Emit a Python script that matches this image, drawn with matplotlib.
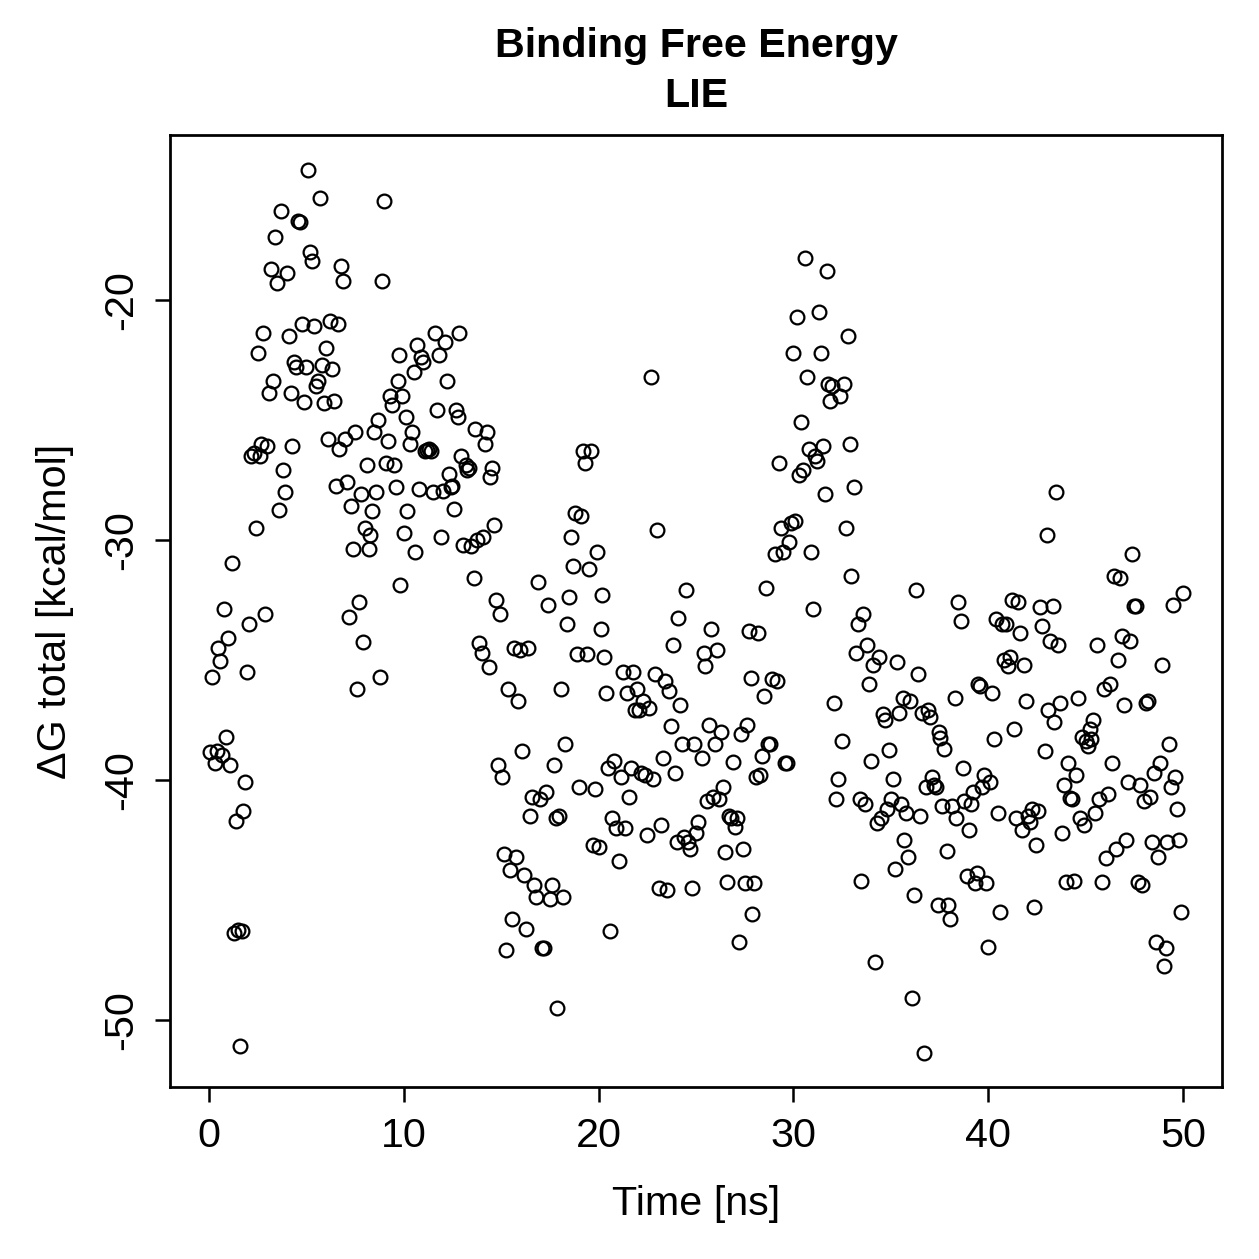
import matplotlib
matplotlib.use('Agg')
import matplotlib.pyplot as plt

## 1. Data
time = [0.05, 0.3, 0.4, 0.67, 0.15, 0.46, 0.56, 0.77, 0.87, 0.97, 1.08, 1.18, 1.28, 1.38, 1.49, 1.59, 1.69, 1.74, 1.84, 1.95,
        2.05, 2.15, 2.3, 2.4, 2.5, 2.6, 2.66, 2.77, 2.87, 2.97, 3.07, 3.18, 3.28, 3.38, 3.48, 3.59, 3.69, 3.79, 3.89, 3.99,
        4.1, 4.2, 4.25, 4.35, 4.46, 4.56, 4.66, 4.76, 4.87, 4.97, 5.07, 5.17, 5.28, 5.38, 5.48, 5.58, 5.69, 5.79, 5.89, 5.99,
        6.1, 6.2, 6.3, 6.4, 6.5, 6.6, 6.7, 6.8, 6.86, 6.97, 7.07, 7.17, 7.27, 7.38, 7.48, 7.58, 7.68, 7.79, 7.89, 7.99,
        8.09, 8.2, 8.25, 8.35, 8.45, 8.56, 8.66, 8.76, 8.86, 8.97, 9.07, 9.17, 9.27, 9.38, 9.48, 9.58, 9.68, 9.73, 9.79, 9.89,
        9.99, 10.09, 10.19, 10.3, 10.4, 10.5, 10.6, 10.7, 10.8, 10.9, 11.0, 11.1, 11.2, 11.3, 11.42, 11.5, 11.6, 11.7, 11.8, 11.9,
        12.0, 12.1, 12.2, 12.3, 12.4, 12.5, 12.6, 12.7, 12.8, 12.86, 12.96, 13.06, 13.17, 13.27, 13.37, 13.47, 13.58, 13.68, 13.78, 13.88,
        13.99, 14.09, 14.19, 14.29, 14.4, 14.45, 14.55, 14.65, 14.75, 14.86, 14.96, 15.06, 15.16, 15.27, 15.37, 15.47, 15.57, 15.68, 15.78, 15.88,
        15.98, 16.09, 16.19, 16.29, 16.39, 16.5, 16.6, 16.7, 16.8, 16.9, 17.0, 17.11, 17.2, 17.3, 17.42, 17.52, 17.62, 17.72, 17.83, 17.88,
        17.98, 18.08, 18.19, 18.29, 18.39, 18.49, 18.6, 18.7, 18.8, 18.9, 19.0, 19.1, 19.2, 19.3, 19.4, 19.5, 19.6, 19.7, 19.8, 19.9,
        20.0, 20.1, 20.2, 20.3, 20.4, 20.5, 20.6, 20.7, 20.8, 20.9, 21.05, 21.15, 21.25, 21.36, 21.46, 21.56, 21.67, 21.77, 21.87, 21.98,
        22.08, 22.18, 22.3, 22.4, 22.5, 22.6, 22.7, 22.8, 22.9, 23.0, 23.1, 23.2, 23.3, 23.4, 23.5, 23.6, 23.7, 23.8, 23.9, 24.0,
        24.1, 24.2, 24.3, 24.4, 24.5, 24.6, 24.7, 24.8, 24.9, 25.0, 25.1, 25.3, 25.4, 25.46, 25.56, 25.66, 25.77, 25.87, 25.97, 26.07,
        26.2, 26.3, 26.4, 26.5, 26.6, 26.7, 26.8, 26.9, 27.0, 27.1, 27.2, 27.3, 27.4, 27.5, 27.6, 27.7, 27.8, 27.9, 28.0, 28.1,
        28.2, 28.3, 28.4, 28.5, 28.6, 28.7, 28.8, 28.9, 29.05, 29.15, 29.25, 29.35, 29.46, 29.56, 29.66, 29.76, 29.87, 29.97, 30.07, 30.17,
        30.28, 30.38, 30.48, 30.6, 30.7, 30.8, 30.9, 31.0, 31.1, 31.2, 31.3, 31.4, 31.5, 31.6, 31.7, 31.8, 31.9, 32.0, 32.1, 32.2,
        32.3, 32.4, 32.5, 32.6, 32.7, 32.8, 32.9, 32.95, 33.1, 33.2, 33.3, 33.4, 33.45, 33.55, 33.66, 33.76, 33.86, 33.96, 34.07, 34.17,
        34.27, 34.37, 34.5, 34.6, 34.7, 34.8, 34.9, 35.0, 35.1, 35.2, 35.3, 35.4, 35.5, 35.6, 35.7, 35.8, 35.86, 35.96, 36.07, 36.17,
        36.27, 36.37, 36.5, 36.6, 36.7, 36.8, 36.9, 37.0, 37.1, 37.2, 37.3, 37.4, 37.45, 37.55, 37.65, 37.75, 37.86, 37.96, 38.06, 38.16,
        38.27, 38.37, 38.47, 38.6, 38.7, 38.78, 38.9, 38.99, 39.1, 39.2, 39.3, 39.4, 39.5, 39.6, 39.7, 39.8, 39.9, 40.0, 40.1, 40.2,
        40.3, 40.4, 40.5, 40.6, 40.7, 40.8, 40.9, 41.0, 41.1, 41.2, 41.3, 41.45, 41.55, 41.65, 41.75, 41.85, 41.95, 42.06, 42.16, 42.26,
        42.37, 42.47, 42.57, 42.67, 42.78, 42.9, 43.0, 43.08, 43.18, 43.3, 43.4, 43.5, 43.6, 43.7, 43.8, 43.9, 44.0, 44.1, 44.2, 44.3,
        44.4, 44.5, 44.6, 44.7, 44.8, 44.9, 45.0, 45.1, 45.2, 45.3, 45.4, 45.5, 45.6, 45.7, 45.85, 45.95, 46.05, 46.15, 46.25, 46.36,
        46.46, 46.56, 46.67, 46.77, 46.87, 46.98, 47.08, 47.2, 47.3, 47.4, 47.48, 47.6, 47.7, 47.8, 47.9, 48.0, 48.1, 48.2, 48.3, 48.4,
        48.5, 48.6, 48.7, 48.8, 48.9, 49.0, 49.1, 49.2, 49.3, 49.4, 49.5, 49.6, 49.7, 49.8, 49.9, 50.0]

dg_total = [-38.83, -39.3, -38.8, -38.96, -35.7, -34.5, -35.04, -32.9, -38.2, -34.1, -39.4, -30.96, -46.4, -41.7, -46.25, -51.1, -46.3, -41.3, -40.1, -35.5,
            -33.5, -26.5, -26.4, -29.5, -22.2, -26.5, -26.0, -21.4, -33.1, -26.1, -23.9, -18.7, -23.4, -17.4, -19.3, -28.75, -16.3, -27.1, -28.0, -18.9,
            -21.5, -23.9, -26.1, -22.6, -22.8, -16.7, -16.75, -21.0, -24.25, -22.8, -14.6, -18.0, -18.4, -21.1, -23.6, -23.4, -15.75, -22.7, -24.3, -22.0,
            -25.8, -20.9, -22.9, -24.2, -27.75, -21.0, -26.2, -18.6, -19.2, -25.8, -27.6, -33.2, -28.6, -30.4, -25.5, -36.2, -32.6, -28.1, -34.25, -29.5,
            -26.9, -30.4, -29.8, -28.8, -25.5, -28.0, -25.0, -35.7, -19.2, -15.9, -26.8, -25.9, -24.0, -24.4, -26.9, -27.8, -23.4, -22.3, -31.9, -24.0,
            -29.7, -24.9, -28.8, -26.0, -25.5, -23.0, -30.5, -21.9, -27.9, -22.4, -22.6, -26.3, -26.25, -26.2, -26.3, -28.0, -21.4, -24.6, -22.3, -29.9,
            -27.96, -21.75, -23.4, -27.25, -27.8, -27.75, -28.7, -24.6, -24.9, -21.4, -26.5, -30.2, -26.9, -27.1, -27.0, -30.25, -31.6, -25.4, -30.0, -34.3,
            -34.7, -29.9, -26.0, -25.5, -35.3, -27.4, -27.0, -29.4, -32.5, -39.4, -33.1, -39.9, -43.1, -47.1, -36.2, -43.75, -45.8, -34.5, -43.2, -36.7,
            -34.6, -38.8, -43.96, -46.2, -34.5, -41.5, -40.7, -44.4, -44.9, -31.75, -40.8, -47.0, -47.0, -40.5, -32.7, -44.95, -44.4, -39.4, -41.6, -49.5,
            -41.5, -36.2, -44.9, -38.5, -33.5, -32.4, -29.9, -31.1, -28.9, -34.75, -40.3, -29.0, -26.3, -26.8, -34.75, -31.2, -26.3, -42.7, -40.4, -30.5,
            -42.8, -33.7, -32.3, -34.9, -36.4, -39.5, -46.3, -41.6, -39.2, -42.0, -43.4, -39.9, -35.5, -42.0, -36.4, -40.7, -39.5, -35.5, -37.1, -36.2,
            -37.1, -39.7, -36.7, -39.8, -42.3, -37.0, -23.2, -39.96, -35.6, -29.6, -44.5, -41.9, -39.1, -35.9, -44.6, -36.3, -37.75, -34.4, -39.7, -42.6,
            -33.25, -36.9, -38.5, -42.4, -32.1, -42.6, -42.9, -44.5, -38.5, -42.2, -41.75, -39.1, -34.7, -35.25, -40.9, -37.7, -33.7, -40.7, -38.5, -34.6,
            -40.8, -38.0, -40.3, -43.0, -44.25, -41.5, -41.6, -39.25, -41.96, -41.6, -46.75, -38.1, -42.9, -44.3, -37.7, -33.8, -35.75, -45.6, -44.3, -39.9,
            -33.9, -39.8, -39.0, -36.5, -32.0, -38.5, -38.5, -35.8, -30.6, -35.9, -26.8, -29.5, -30.5, -39.3, -39.3, -30.1, -29.3, -22.2, -29.2, -20.7,
            -27.3, -25.1, -27.1, -18.25, -23.2, -26.2, -30.5, -32.9, -26.5, -26.7, -20.5, -22.2, -26.1, -28.1, -18.8, -23.5, -24.2, -23.6, -36.8, -40.8,
            -39.96, -24.0, -38.4, -23.5, -29.5, -21.5, -26.0, -31.5, -27.8, -34.7, -33.5, -40.8, -44.2, -33.1, -41.0, -34.4, -36.0, -39.2, -35.2, -47.6,
            -41.8, -34.9, -41.6, -37.25, -37.5, -41.2, -38.75, -40.8, -39.96, -43.7, -35.1, -37.2, -41.0, -36.6, -42.5, -41.4, -43.2, -36.7, -49.1, -44.8,
            -32.1, -35.6, -41.5, -37.2, -51.4, -40.3, -37.1, -37.4, -39.9, -40.2, -40.3, -45.2, -38.0, -38.25, -41.1, -38.7, -42.95, -45.2, -45.8, -41.1,
            -36.6, -41.6, -32.6, -33.4, -39.5, -40.9, -44.0, -42.1, -41.0, -40.5, -44.3, -43.9, -36.0, -36.1, -40.3, -39.8, -44.3, -46.96, -40.1, -36.4,
            -38.3, -33.3, -41.4, -45.5, -33.5, -35.0, -33.5, -35.25, -34.9, -32.5, -37.9, -41.6, -32.6, -33.9, -42.1, -35.2, -36.7, -41.5, -41.75, -41.2,
            -45.3, -42.7, -41.3, -32.8, -33.6, -38.8, -29.8, -37.1, -34.2, -32.75, -37.6, -28.0, -34.4, -36.8, -42.2, -40.2, -44.25, -39.3, -40.75, -40.8,
            -44.2, -39.8, -36.6, -41.6, -38.2, -41.9, -38.4, -38.6, -37.9, -38.3, -37.5, -41.4, -34.4, -40.8, -44.25, -36.2, -43.25, -40.6, -36.0, -39.3,
            -31.5, -42.9, -35.0, -31.6, -34.0, -36.9, -42.5, -40.1, -34.2, -30.6, -32.75, -32.75, -44.25, -40.2, -44.4, -40.9, -36.8, -36.7, -40.7, -42.6,
            -39.7, -46.75, -43.2, -39.3, -35.2, -47.75, -47.0, -42.6, -38.5, -40.3, -32.7, -39.9, -41.2, -42.5, -45.5, -32.2]

## 2. Figure (R base-graphics look)
plt.rcParams['font.family'] = ['Liberation Sans', 'DejaVu Sans']
plt.rcParams['axes.unicode_minus'] = False   # R draws a plain hyphen

fig = plt.figure(figsize=(1259 / 180, 1259 / 180), dpi=180, facecolor='white')
ax = fig.add_axes([170 / 1259, 1 - 1087 / 1259, (1222 - 170) / 1259, (1087 - 135) / 1259])

ax.plot(time, dg_total, linestyle='none', marker='o', markersize=5.5,
        markerfacecolor='none', markeredgecolor='black', markeredgewidth=0.9)

ax.set_xlim(-2, 52)
ax.set_ylim(-52.8, -13.13)
ax.set_xticks([0, 10, 20, 30, 40, 50])
ax.set_yticks([-50, -40, -30, -20])
ax.tick_params(axis='both', direction='out', length=6, width=1.0, labelsize=16.5, pad=6)
ax.tick_params(top=False, right=False)
for lbl in ax.get_yticklabels():
    lbl.set_rotation(90)
    lbl.set_verticalalignment('center')
for sp in ax.spines.values():
    sp.set_linewidth(1.1)

ax.set_xlabel('Time [ns]', fontsize=16.5, labelpad=12)
ax.set_ylabel('ΔG total [kcal/mol]', fontsize=16.5, labelpad=11)

## 3. Title, centred over the plot box like R's main=
cx = (170 + 1222) / 2 / 1259
fig.text(cx, 1 - 46 / 1259, 'Binding Free Energy', ha='center', va='center', fontsize=16.5, fontweight='bold')
fig.text(cx, 1 - 96 / 1259, 'LIE', ha='center', va='center', fontsize=16.5, fontweight='bold')

plt.savefig('out.png', dpi=180)
